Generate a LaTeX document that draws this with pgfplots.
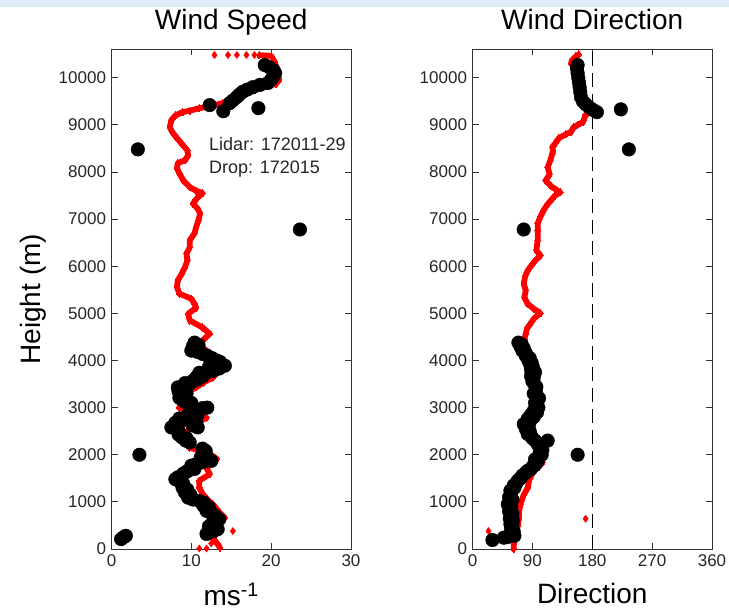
\documentclass[border=0pt]{standalone}
\usepackage{pgfplots}
\pgfplotsset{compat=1.18}
\usepackage{fontspec}
\setmainfont{Liberation Sans}
\definecolor{lidarred}{RGB}{255,0,0}
\definecolor{topband}{RGB}{222,234,247}

\pgfplotsset{
  mypanel/.style={
    scale only axis,
    width=239.5pt, height=499.5pt,
    ymin=0, ymax=10600,
    ytick={0,1000,...,10000},
    scaled y ticks=false,
    axis line style={line width=0.9pt, black!80},
    every tick/.style={line width=0.9pt, black!80},
    major tick length=6pt,
    tick align=inside,
    tick label style={font=\fontsize{17}{19}\selectfont, black!85},
    /pgf/number format/assume math mode=true,
    /pgf/number format/1000 sep={},
    title style={at={(axis description cs:0.5,1)}, anchor=base, yshift=14pt, font=\fontsize{28}{30}\selectfont},
    xlabel style={font=\fontsize{28}{30}\selectfont},
    yticklabel style={xshift=-2pt},
    xticklabel style={yshift=-2pt},
  },
  redline/.style={lidarred, line width=5.8pt, line join=round, mark=diamond*, mark size=3.6pt, mark options={solid, line width=0pt}},
  redpts/.style={only marks, lidarred, mark=diamond*, mark size=3.6pt},
  blackdots/.style={only marks, black, mark=*, mark size=6.8pt},
}

\begin{document}
\begin{tikzpicture}
\path[use as bounding box, fill=white] (0,0) rectangle (729pt,613pt);
\fill[topband] (0,606pt) rectangle (729pt,613pt);

% ---------------- Wind Speed ----------------
\begin{axis}[mypanel,
  at={(111.5pt,64pt)}, anchor=south west,
  xmin=0, xmax=30, xtick={0,10,20,30},
  title={Wind Speed},
  xlabel={ms\textsuperscript{-1}},
  xlabel style={at={(axis description cs:0.5,0)}, anchor=base, yshift=-57pt},
  ylabel={Height (m)},
  ylabel style={at={(axis description cs:-0.297,0.5)}, anchor=base, font=\fontsize{28}{30}\selectfont},
]
% lidar (red)
\addplot[redline] table {
x y
18.5 10480
20.0 10465
20.4 10350
20.8 10150
21.0 9950
20.6 9870
19.5 9820
18.0 9740
16.8 9650
15.6 9560
13.9 9462
12.5 9400
11.0 9355
9.8 9300
8.9 9270
8.0 9200
7.5 9100
7.3 8950
7.6 8850
8.1 8740
8.8 8600
9.5 8460
9.6 8350
9.2 8250
8.3 8190
8.2 8080
8.5 7970
9.0 7820
9.8 7680
10.6 7600
11.4 7550
10.8 7460
10.2 7330
10.8 7220
11.1 7120
10.9 6980
10.6 6830
10.4 6700
9.8 6550
9.8 6400
9.4 6270
9.5 6120
9.2 5980
8.8 5840
8.3 5700
8.2 5560
8.5 5420
10.0 5310
10.4 5200
10.6 5120
9.6 4990
9.8 4850
11.4 4700
12.3 4570
11.4 4420
11.2 4300
11.9 4210
13.2 4050
14.4 3930
13.6 3800
12.7 3640
11.5 3530
10.6 3430
9.2 3300
8.8 3150
8.5 3000
10.5 2900
11.9 2790
10.5 2650
9.5 2500
8.9 2370
9.3 2250
9.8 2150
12.3 2020
13.2 1910
12.5 1820
11.9 1720
12.3 1590
11.0 1450
11.0 1300
11.4 1170
12.0 1050
12.7 950
13.4 800
14.2 660
13.3 550
13.5 400
12.7 240
13.3 100
13.6 30
};
\addplot[redpts] table {
x y
12.9 10483
14.6 10483
15.7 10483
16.9 10483
17.9 10483
15.2 380
11.0 10
11.9 10
12.5 120
};
% dropsonde (black)
\addplot[blackdots] table {
x y
19.2 10270
19.8 10220
20.3 10160
20.5 10100
20.3 10030
20.0 9960
19.6 9890
18.6 9850
17.7 9800
17.0 9750
16.4 9700
16.0 9640
15.7 9590
15.2 9520
14.8 9460
12.3 9420
14.0 9290
18.4 9355
3.3 8480
23.6 6780
10.4 4380
10.2 4300
10.0 4210
11.4 4140
12.6 4050
13.6 3970
14.2 3890
13.5 3830
12.7 3780
11.6 3700
10.6 3640
10.2 3570
9.8 3500
8.3 3430
8.4 3350
8.6 3280
8.5 3210
9.4 3150
10.0 3100
12.0 3000
10.8 2950
10.4 2890
9.5 2830
8.5 2770
8.0 2680
7.5 2580
10.8 2580
10.6 2700
8.5 2480
8.8 2370
9.3 2300
11.4 2130
12.5 1870
11.2 1950
10.6 1800
10.2 1740
9.8 1680
9.0 1600
8.3 1520
8.6 1420
8.9 1300
9.2 1200
9.6 1090
11.0 1020
11.5 920
11.9 810
12.6 740
13.2 660
12.8 600
12.5 520
12.7 450
12.8 380
11.9 320
3.5 2000
1.2 210
1.5 250
1.8 280
10.9 4330
10.6 4250
10.8 4180
12.0 4100
13.2 4000
13.0 3920
12.2 3860
11.0 3740
11.4 3660
10.8 3600
9.2 3520
9.0 3450
9.2 3380
9.4 3300
9.3 3240
8.8 3180
9.2 3120
11.4 2990
9.8 2920
10.8 2860
9.3 2800
8.8 2720
7.9 2640
10.2 2620
8.2 2540
8.4 2430
9.4 2350
9.8 2260
11.8 2080
12.0 1930
11.4 1840
10.0 1770
10.4 1700
9.4 1640
8.8 1560
8.0 1480
9.0 1380
9.5 1260
9.9 1150
10.2 1050
11.6 980
12.2 880
12.4 780
13.0 700
13.5 630
13.0 560
12.2 480
13.3 420
12.2 350
};
\node[anchor=base west, font=\fontsize{18}{20}\selectfont, black!85] at (axis cs:11.8,8463) {Lidar: 172011-29};
\node[anchor=base west, font=\fontsize{18}{20}\selectfont, black!85] at (axis cs:11.8,7974) {Drop: 172015};
\end{axis}

% ---------------- Wind Direction ----------------
\begin{axis}[mypanel,
  at={(472.5pt,64pt)}, anchor=south west,
  xmin=0, xmax=360, xtick={0,90,180,270,360},
  title={Wind Direction},
  xlabel={Direction},
  xlabel style={at={(axis description cs:0.5,0)}, anchor=base, yshift=-55pt},
]
\addplot[black, line width=1pt, dash pattern=on 14pt off 7pt] coordinates {(180,0) (180,10600)};
\addplot[redline] table {
x y
160 10500
155 10450
150 10380
148 10310
152 10230
155 10160
158 10100
160 9900
163 9700
168 9500
174 9350
174 9260
170 9210
168 9130
166 9060
158 9000
152 8950
150 8900
148 8850
140 8800
130 8720
128 8680
124 8600
120 8530
121 8450
120 8390
117 8250
113 8100
116 7950
110 7820
118 7700
126 7620
132 7570
124 7500
118 7400
112 7300
107 7190
102 7050
98 6910
98 6750
98 6550
96 6340
102 6230
93 6100
83 5910
79 5780
77 5630
80 5490
78 5340
83 5200
92 5100
102 5000
93 4900
87 4780
82 4680
80 4570
78 4450
80 4300
88 4100
92 3900
95 3700
97 3500
100 3300
100 3100
95 2900
93 2750
90 2600
92 2450
95 2300
100 2150
103 2000
105 1830
100 1750
92 1650
88 1550
85 1450
83 1300
77 1150
72 950
70 800
70 660
68 500
66 350
63 200
62 100
62 0
};
\addplot[redpts] table {
x y
170 640
24 380
62 0
};
\addplot[blackdots] table {
x y
158 10270
157 10200
158 10100
159 10000
160 9900
161 9800
162 9700
163 9590
166 9500
170 9440
175 9380
181 9320
187 9270
223 9330
235 8480
77 6780
113 2300
158 2000
69 4380
72 4300
75 4210
80 4100
84 4000
87 3900
88 3800
90 3700
92 3640
93 3500
95 3360
97 3250
98 3150
96 3050
92 2930
88 2850
83 2760
77 2650
80 2550
83 2440
90 2350
97 2250
102 2150
101 2050
100 1950
98 1870
91 1760
83 1660
75 1560
68 1450
62 1350
57 1240
55 1100
53 950
55 800
56 650
57 530
58 420
60 320
52 250
47 240
30 190
74 4340
77 4260
80 4160
86 4050
89 3950
91 3850
94 3750
88 3670
90 3560
96 3440
92 3300
100 3200
94 3100
99 3000
97 2900
92 2800
86 2700
82 2600
86 2500
88 2400
94 2300
99 2200
105 2100
104 2000
94 1900
95 1800
88 1700
80 1620
72 1500
66 1400
63 1300
58 1180
60 1050
58 900
60 750
61 600
60 480
62 370
63 280
};
\end{axis}
\end{tikzpicture}
\end{document}
